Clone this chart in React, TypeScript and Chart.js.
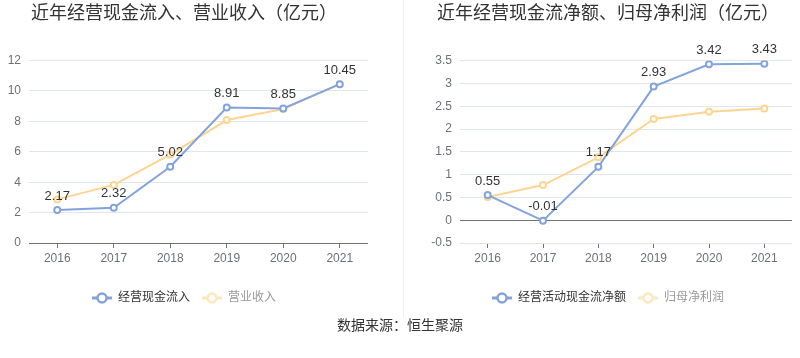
import React, { useEffect, useRef } from "react";
import { Chart, registerables } from "chart.js";

Chart.register(...registerables);

const years = ["2016", "2017", "2018", "2019", "2020", "2021"];
const cashInflow = [2.17, 2.32, 5.02, 8.91, 8.85, 10.45];
const revenue = [2.87, 3.82, 5.82, 8.09, 8.82, 10.45];
const netCashFlow = [0.55, -0.01, 1.17, 2.93, 3.42, 3.43];
const netProfit = [0.51, 0.77, 1.38, 2.22, 2.38, 2.45];

const leftTitle = "近年经营现金流入、营业收入（亿元）";
const rightTitle = "近年经营现金流净额、归母净利润（亿元）";
const leftNames = ["经营现金流入", "营业收入"];
const rightNames = ["经营活动现金流净额", "归母净利润"];
const sourceText = "数据来源：恒生聚源";

const BLUE = "#83a3dc";
const ORANGE = "#fdd592";
const FONT = "'Liberation Sans', 'Noto Sans CJK SC', sans-serif";

function makeIcon(color: string) {
  const c = document.createElement("canvas");
  c.width = 20;
  c.height = 12;
  const ctx = c.getContext("2d")!;
  ctx.strokeStyle = color;
  ctx.lineWidth = 3;
  ctx.beginPath();
  ctx.moveTo(0, 6);
  ctx.lineTo(20, 6);
  ctx.stroke();
  ctx.beginPath();
  ctx.arc(10, 6, 4.5, 0, Math.PI * 2);
  ctx.fillStyle = "#fff";
  ctx.fill();
  ctx.lineWidth = 2.5;
  ctx.stroke();
  return c;
}

const labelPlugin = {
  id: "valueLabels",
  afterDatasetsDraw(chart: any) {
    const ctx = chart.ctx;
    const meta = chart.getDatasetMeta(0);
    const data = chart.data.datasets[0].data as number[];
    ctx.save();
    ctx.font = `13px ${FONT}`;
    ctx.fillStyle = "#333";
    ctx.textAlign = "center";
    ctx.textBaseline = "middle";
    meta.data.forEach((pt: any, i: number) => {
      ctx.fillText(data[i].toFixed(2), pt.x, pt.y - 14);
    });
    ctx.restore();
  },
};

function buildConfig(
  title: string,
  names: string[],
  a: number[],
  b: number[],
  yMin: number,
  yMax: number,
  step: number,
  padLeft: number,
  padRight: number,
  yWidth: number
): any {
  const icons = [makeIcon(BLUE), makeIcon("#ffe6bf")];
  const textColors = ["#333", "#999"];
  return {
    type: "line",
    data: {
      labels: years,
      datasets: [
        {
          label: names[0],
          data: a,
          borderColor: BLUE,
          backgroundColor: "#fff",
          borderWidth: 2,
          pointRadius: 3,
          pointBorderWidth: 2,
          pointBackgroundColor: "#fff",
          pointBorderColor: BLUE,
          tension: 0,
          order: 0,
        },
        {
          label: names[1],
          data: b,
          borderColor: ORANGE,
          backgroundColor: "#fff",
          borderWidth: 2,
          pointRadius: 3,
          pointBorderWidth: 2,
          pointBackgroundColor: "#fff",
          pointBorderColor: ORANGE,
          tension: 0,
          order: 1,
        },
      ],
    },
    options: {
      responsive: false,
      animation: false,
      layout: { padding: { left: padLeft, right: padRight, top: 0, bottom: 0 } },
      plugins: {
        title: {
          display: true,
          text: title,
          color: "#333",
          font: { size: 18, family: FONT, weight: "normal" },
          padding: { top: 3, bottom: 36 },
        },
        legend: {
          display: true,
          position: "bottom",
          labels: {
            usePointStyle: true,
            pointStyleWidth: 20,
            boxHeight: 12,
            padding: 12,
            font: { size: 12, family: FONT },
            generateLabels(chart: any) {
              const items = Chart.defaults.plugins.legend.labels.generateLabels(chart);
              return items.map((it: any, i: number) => ({
                ...it,
                pointStyle: icons[i],
                fontColor: textColors[i],
              }));
            },
          },
        },
        tooltip: { enabled: false },
      },
      scales: {
        x: {
          offset: true,
          border: { display: false },
          grid: {
            display: true,
            offset: false,
            drawOnChartArea: false,
            drawTicks: true,
            tickLength: 5,
            color: "#6e7079",
          },
          ticks: { color: "#6e7079", padding: 3, font: { size: 12, family: FONT } },
          afterFit(scale: any) {
            scale.height = 37;
          },
        },
        y: {
          min: yMin,
          max: yMax,
          border: { display: false },
          grid: {
            drawTicks: false,
            color: (c: any) => (c.tick && c.tick.value === 0 ? "#6e7079" : "#e0e6f1"),
          },
          ticks: {
            stepSize: step,
            color: "#6e7079",
            padding: 8,
            font: { size: 12, family: FONT },
            callback: (v: any) => String(parseFloat(Number(v).toFixed(2))),
          },
          afterFit(scale: any) {
            scale.width = yWidth;
          },
        },
      },
    },
    plugins: [labelPlugin],
  };
}

function LineChart(props: { cfg: () => any; left: number }) {
  const ref = useRef<HTMLCanvasElement>(null);
  useEffect(() => {
    const chart = new Chart(ref.current!, props.cfg());
    return () => chart.destroy();
  }, []);
  return (
    <canvas
      ref={ref}
      width={400}
      height={314}
      style={{ position: "absolute", left: props.left, top: 0, width: 400, height: 314 }}
    />
  );
}

export default function App() {
  return (
    <div
      style={{
        position: "fixed",
        left: 0,
        top: 0,
        width: 800,
        height: 358,
        background: "#fff",
        overflow: "hidden",
      }}
    >
      <LineChart
        left={0}
        cfg={() => buildConfig(leftTitle, leftNames, cashInflow, revenue, 0, 12, 2, 0, 32, 29)}
      />
      <LineChart
        left={400}
        cfg={() => buildConfig(rightTitle, rightNames, netCashFlow, netProfit, -0.5, 3.5, 0.5, 24, 8, 36)}
      />
      <div
        style={{
          position: "absolute",
          left: 403,
          top: 0,
          width: 1,
          height: 317,
          background: "#eeeeee",
        }}
      />
      <div
        style={{
          position: "absolute",
          left: 0,
          top: 316,
          width: 800,
          textAlign: "center",
          fontSize: 14,
          lineHeight: "18px",
          color: "#333",
          fontFamily: FONT,
        }}
      >
        {sourceText}
      </div>
    </div>
  );
}
